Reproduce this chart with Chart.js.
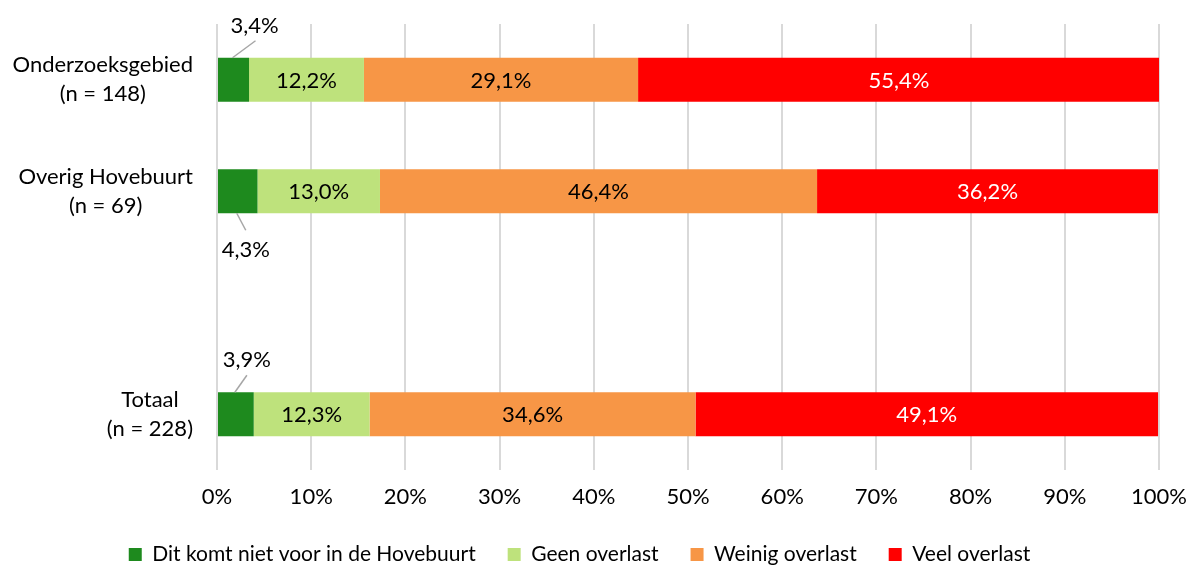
<!DOCTYPE html>
<html>
<head>
<meta charset="utf-8">
<script src="https://cdn.jsdelivr.net/npm/chart.js@4/dist/chart.umd.min.js"></script>
<style>
  html, body { margin: 0; padding: 0; background: #fff; }
  #wrap { width: 1195px; height: 565px; }
</style>
</head>
<body>
<div id="wrap"><canvas id="chart" width="1195" height="565"></canvas></div>
<script>
// Categories (empty row between Overig Hovebuurt and Totaal)
const categories = [
    ['Onderzoeksgebied', '(n = 148)'],
    ['Overig Hovebuurt', '(n = 69)'],
    '',
    ['Totaal', '(n = 228)']
];
const seriesNames = ['Dit komt niet voor in de Hovebuurt', 'Geen overlast', 'Weinig overlast', 'Veel overlast'];
const nietVoor = [3.4, 4.3, null, 3.9];
const geenOverlast = [12.2, 13.0, null, 12.3];
const weinigOverlast = [29.1, 46.4, null, 34.6];
const veelOverlast = [55.4, 36.2, null, 49.1];
const xTicks = [0, 10, 20, 30, 40, 50, 60, 70, 80, 90, 100];

const colors = ['#1e8a1e', '#bee27c', '#f79646', '#ff0000'];
const labelColors = ['#000', '#000', '#000', '#fff'];
const FONT = 'Lato';
const FS = 22;

// outside labels of the small first segment (leader line end and text offset)
const outsideOffsets = [
    { below: false, lx0: -1, lx1: 22, tx: 21 },
    { below: true, lx0: -1, lx1: 8, tx: 8 },
    null,
    { below: false, lx0: -1, lx1: 11, tx: 11 }
];

function fmt(v) {
    return v.toFixed(1).replace('.', ',') + '%';
}

// Draw value labels and the centred multi-line category labels
const valueLabels = {
    id: 'valueLabels',
    afterDatasetsDraw(chart) {
        const ctx = chart.ctx;
        ctx.save();
        ctx.font = FS + 'px ' + FONT;
        ctx.textAlign = 'center';
        ctx.textBaseline = 'middle';
        chart.data.datasets.forEach((ds, di) => {
            const meta = chart.getDatasetMeta(di);
            meta.data.forEach((bar, i) => {
                const v = ds.data[i];
                if (v == null) return;
                const cx = (bar.base + bar.x) / 2;
                if (di === 0) {
                    const o = outsideOffsets[i];
                    const top = bar.y - bar.height / 2;
                    const bottom = bar.y + bar.height / 2;
                    ctx.strokeStyle = '#a6a6a6';
                    ctx.lineWidth = 1.5;
                    ctx.beginPath();
                    if (o.below) {
                        ctx.moveTo(cx + o.lx0, bottom);
                        ctx.lineTo(cx + o.lx1, bottom + 17);
                    } else {
                        ctx.moveTo(cx + o.lx0, top);
                        ctx.lineTo(cx + o.lx1, top - 17);
                    }
                    ctx.stroke();
                    ctx.fillStyle = '#000';
                    ctx.fillText(fmt(v), cx + o.tx, o.below ? bottom + 37 : top - 32);
                } else {
                    ctx.fillStyle = labelColors[di];
                    ctx.fillText(fmt(v), cx, bar.y + 1);
                }
            });
        });

        // category labels: lines centred on each other, block right-aligned
        const yScale = chart.scales.y;
        const right = yScale.right - 24;
        ctx.fillStyle = '#000';
        chart.data.labels.forEach((lab, i) => {
            const lines = Array.isArray(lab) ? lab : [lab];
            if (!lines[0]) return;
            const w = Math.max(...lines.map(l => ctx.measureText(l).width));
            const y0 = yScale.getPixelForTick(i) - (lines.length - 1) * 29 / 2;
            lines.forEach((l, k) => {
                ctx.fillText(l, right - w / 2, y0 + k * 29);
            });
        });
        ctx.restore();
    }
};

const seriesData = [nietVoor, geenOverlast, weinigOverlast, veelOverlast];

new Chart(document.getElementById('chart'), {
    type: 'bar',
    data: {
        labels: categories,
        datasets: seriesData.map((d, i) => ({
            label: seriesNames[i],
            data: d,
            backgroundColor: colors[i],
            borderWidth: 0,
            categoryPercentage: 1,
            barPercentage: 0.395
        }))
    },
    options: {
        indexAxis: 'y',
        responsive: false,
        animation: false,
        layout: { padding: { top: 24, right: 36, left: 0, bottom: -10 } },
        plugins: {
            legend: {
                position: 'bottom',
                labels: {
                    boxWidth: 13,
                    boxHeight: 13,
                    padding: 32,
                    color: '#000',
                    font: { family: FONT, size: 21 }
                }
            },
            tooltip: { enabled: false }
        },
        scales: {
            x: {
                stacked: true,
                min: 0,
                max: 100,
                afterBuildTicks(scale) {
                    scale.ticks = xTicks.map(v => ({ value: v }));
                },
                afterFit(scale) {
                    scale.height = 42;
                    scale.paddingLeft = 0;
                    scale.paddingRight = 0;
                },
                ticks: {
                    color: '#000',
                    padding: 14,
                    font: { family: FONT, size: FS },
                    callback: v => v + '%'
                },
                grid: { color: '#d9d9d9', lineWidth: 2, drawTicks: false },
                border: { display: false }
            },
            y: {
                stacked: true,
                afterFit(scale) { scale.width = 217; },
                ticks: { display: false },
                grid: { display: false },
                border: { display: false }
            }
        }
    },
    plugins: [valueLabels]
});
</script>
</body>
</html>
